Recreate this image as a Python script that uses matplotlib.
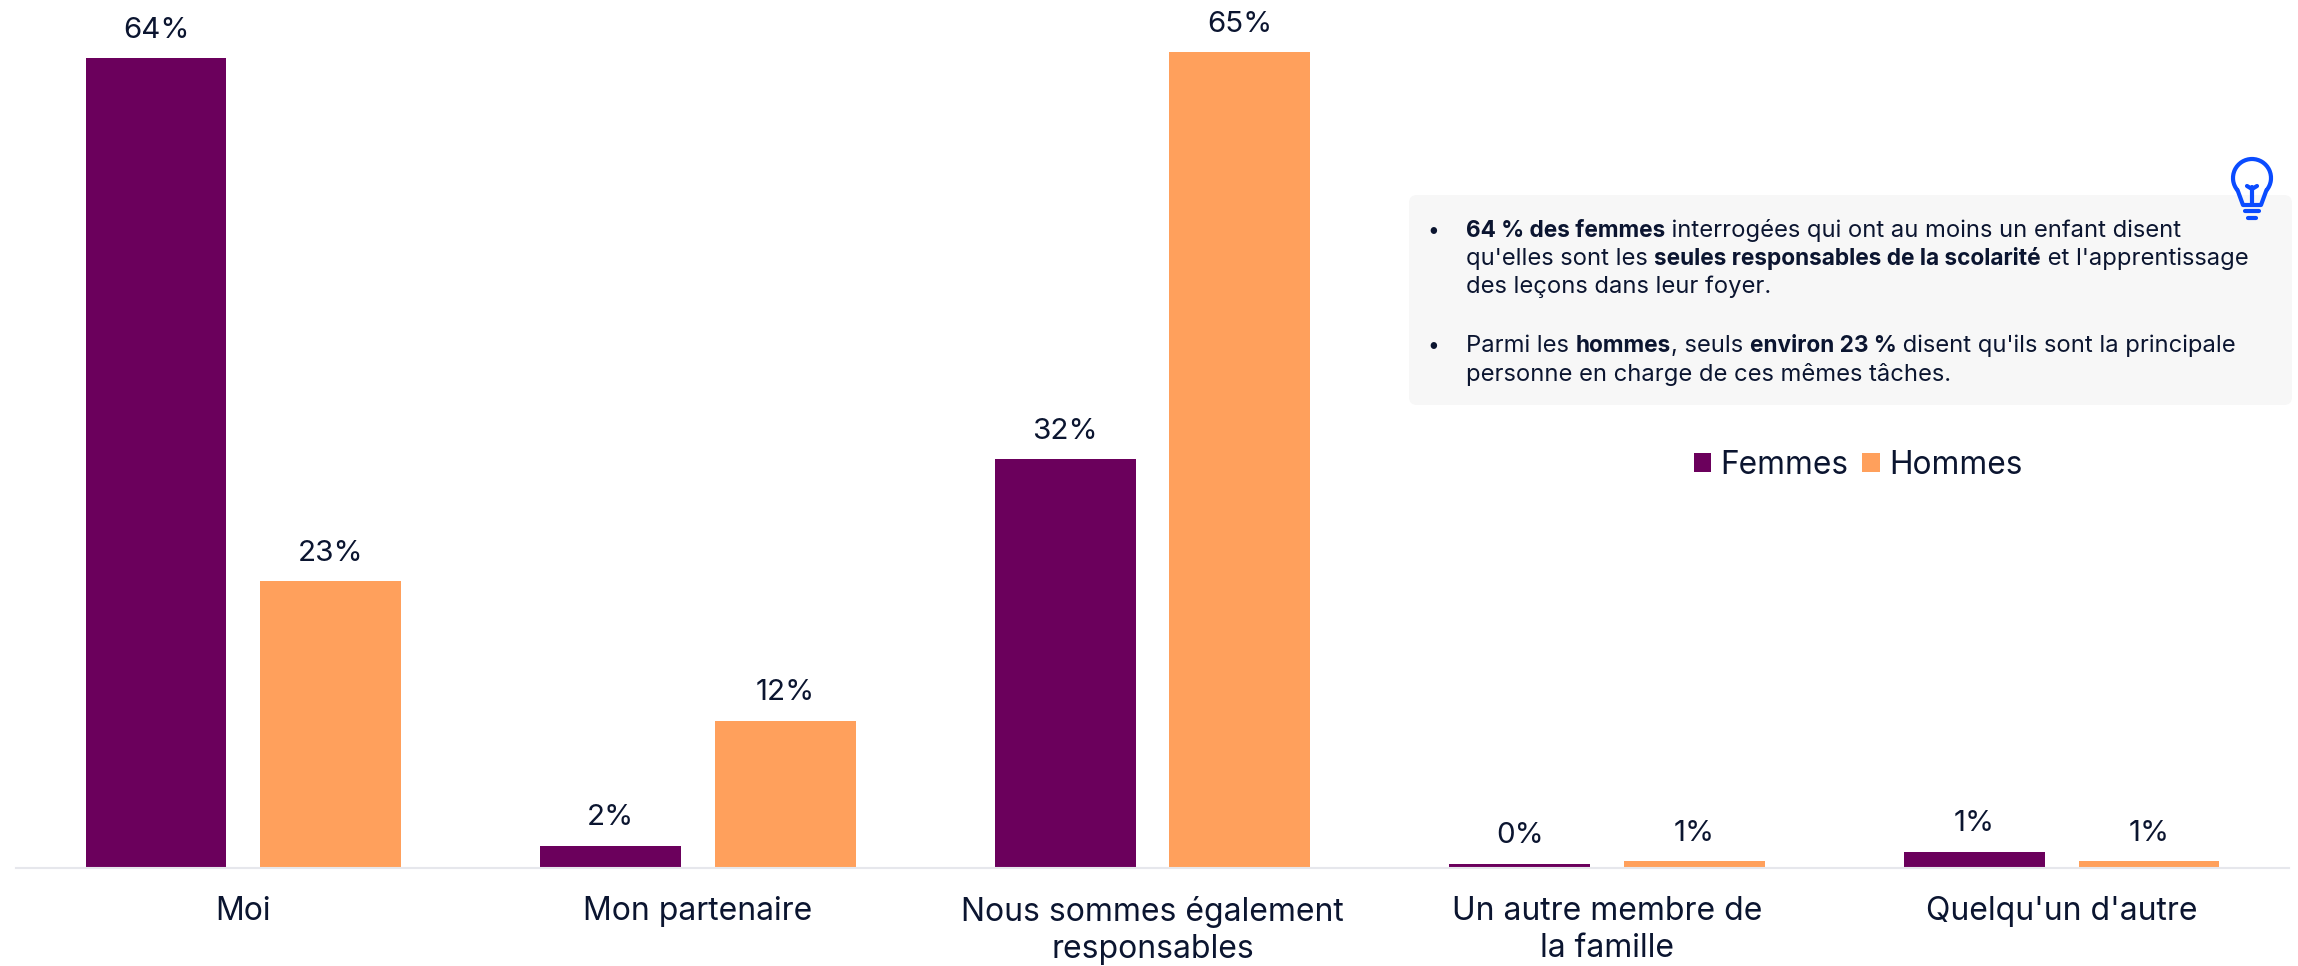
import matplotlib
matplotlib.use("Agg")
import matplotlib.pyplot as plt
from matplotlib.patches import FancyBboxPatch, Arc
import numpy as np

plt.rcParams['font.family'] = ['Inter', 'DejaVu Sans']

categories = ["Moi", "Mon partenaire", "Nous sommes également\nresponsables",
              "Un autre membre de\nla famille", "Quelqu'un d'autre"]
femmes = [64.4, 1.75, 32.5, 0.35, 1.27]
hommes = [22.8, 11.7, 64.9, 0.55, 0.55]
femmes_labels = ["64%", "2%", "32%", "0%", "1%"]
hommes_labels = ["23%", "12%", "65%", "1%", "1%"]

# callout text, (text, bold) runs for each line
callout_lines = [
    [("64 % des femmes", True), (" interrogées qui ont au moins un enfant disent", False)],
    [("qu'elles sont les ", False), ("seules responsables de la scolarité", True), (" et l'apprentissage", False)],
    [("des leçons dans leur foyer.", False)],
    [("Parmi les ", False), ("hommes", True), (", seuls ", False), ("environ 23 %", True), (" disent qu'ils sont la principale", False)],
    [("personne en charge de ces mêmes tâches.", False)],
]
callout_baselines = [237, 265, 293, 352, 381]
bullet_lines = [0, 3]

violet = "#6B005C"
orange = "#FFA05C"
ink = "#0B1530"
blue = "#0A4BFF"

W, H = 2298, 966
fig = plt.figure(figsize=(W / 100, H / 100), dpi=100, facecolor="white")

# main chart, baseline at y=868 px
ax = fig.add_axes([16 / W, 1 - 868 / H, (2289 - 16) / W, 868 / H])
x = np.arange(len(categories))
w = 0.31
off = 0.192
b1 = ax.bar(x - off, femmes, w, color=violet, label="Femmes")
b2 = ax.bar(x + off, hommes, w, color=orange, label="Hommes")
ax.set_xlim(-0.5, 4.5)
ax.set_ylim(0, 868 / 12.57)

for bars, labs in ((b1, femmes_labels), (b2, hommes_labels)):
    for r, lab in zip(bars, labs):
        ax.annotate(lab, (r.get_x() + r.get_width() / 2, r.get_height()), xytext=(0, 10.5),
                    textcoords="offset points", ha="center", va="bottom",
                    fontsize=21.3, color=ink, annotation_clip=False)

for s in ("top", "left", "right"):
    ax.spines[s].set_visible(False)
ax.spines["bottom"].set_color("#E6E7EC")
ax.spines["bottom"].set_linewidth(1.5)
ax.set_yticks([])
ax.set_xticks(x)
ax.set_xticklabels(categories, fontsize=23, color=ink, linespacing=1.25)
ax.tick_params(axis="x", length=0, pad=20.5)
ax.patch.set_alpha(0)

fig.legend([b1, b2], ["Femmes", "Hommes"], loc="center", ncol=2, frameon=False,
           bbox_to_anchor=(1858 / W, 1 - 465 / H), fontsize=22.8, labelcolor=ink,
           handlelength=0.56, handleheight=0.56, handletextpad=0.28, columnspacing=0.45,
           borderpad=0, borderaxespad=0)

# overlay in pixel coordinates for the callout
ov = fig.add_axes([0, 0, 1, 1], zorder=5)
ov.set_xlim(0, W)
ov.set_ylim(H, 0)
ov.axis("off")
ov.patch.set_alpha(0)

ov.add_patch(FancyBboxPatch((1415, 201), 871, 198, boxstyle="round,pad=6,rounding_size=8",
                            fc="#F7F7F7", ec="none"))

renderer = fig.canvas.get_renderer()
for i, (runs, yb) in enumerate(zip(callout_lines, callout_baselines)):
    if i in bullet_lines:
        ov.text(1433, yb, "•", fontsize=15, color=ink, ha="center", va="baseline")
    xp = 1466
    for txt, bold in runs:
        t = ov.text(xp, yb, txt.replace(" ", "\u00a0"), fontsize=16.3 if bold else 17.1, color=ink,
                    va="baseline", fontweight="bold" if bold else "normal")
        xp = ov.transData.inverted().transform(t.get_window_extent(renderer))[1][0]

# bulb icon
lw = 3
ov.add_patch(Arc((2252, 178), 38, 38, theta1=140, theta2=40, color=blue, lw=lw))
ov.plot([2237.5, 2243, 2261, 2266.5], [190, 205, 205, 190], color=blue, lw=lw, solid_capstyle="round")
ov.plot([2252, 2252], [187, 205], color=blue, lw=lw, solid_capstyle="round")
ov.plot([2247, 2252, 2257], [186, 189, 186], color=blue, lw=lw, solid_capstyle="round")
ov.plot([2245, 2259], [211, 211], color=blue, lw=lw, solid_capstyle="round")
ov.plot([2248, 2256], [218, 218], color=blue, lw=lw, solid_capstyle="round")

fig.savefig("out.png", dpi=100)
